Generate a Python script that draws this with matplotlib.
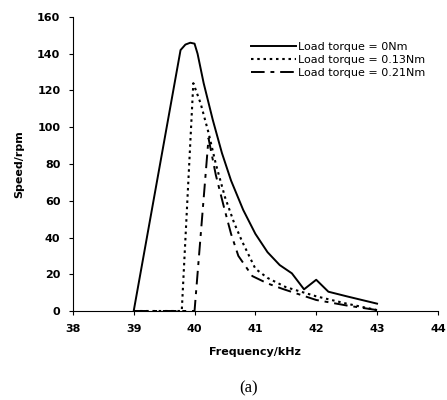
import matplotlib
matplotlib.use("Agg")
import matplotlib.pyplot as plt

# frequency (kHz) / speed (rpm)
f0 = [39.0, 39.77, 39.85, 39.93, 40.0, 40.05, 40.15, 40.3, 40.45, 40.6, 40.8, 41.0, 41.2, 41.4, 41.6, 41.8, 42.0, 42.2, 42.5, 43.0]
s0 = [0, 142, 145, 146, 145.5, 140, 124, 104, 86, 71, 55, 42, 32, 25, 20.5, 11.8, 17, 10.5, 8, 4]

f13 = [39.0, 39.79, 39.98, 40.1, 40.23, 40.35, 40.5, 40.65, 40.78, 41.0, 41.2, 41.5, 42.0, 42.5, 43.0]
s13 = [0, 0, 124, 113, 97, 80, 62, 48, 38, 23, 18, 13, 8, 4, 0.5]

f21 = [39.0, 40.0, 40.23, 40.35, 40.48, 40.6, 40.72, 40.95, 41.2, 41.45, 42.0, 42.5, 43.0]
s21 = [0, 0, 94, 74, 57, 42, 30, 19, 15, 12, 6, 3, 0.5]

labels = ["Load torque = 0Nm", "Load torque = 0.13Nm", "Load torque = 0.21Nm"]

plt.rcParams['font.family'] = ['DejaVu Sans']

fig = plt.figure(figsize=(4.47, 4.0), dpi=100)
ax = fig.add_axes([0.163, 0.2225, 0.8166, 0.735])

ax.plot(f0, s0, color='black', lw=1.4, label=labels[0])
ax.plot(f13, s13, color='black', lw=1.5, linestyle=(0, (1.2, 1.8)), label=labels[1])
ax.plot(f21, s21, color='black', lw=1.4, linestyle=(0, (7, 3, 2, 3)), label=labels[2])

ax.set_xlim(38, 44)
ax.set_ylim(0, 160)
ax.set_xticks(range(38, 45))
ax.set_yticks(range(0, 161, 20))
ax.spines['top'].set_visible(False)
ax.spines['right'].set_visible(False)
ax.spines['left'].set_linewidth(0.8)
ax.spines['bottom'].set_linewidth(0.8)
ax.tick_params(direction='out', length=3, width=0.8, labelsize=8, pad=6)
for t in ax.get_xticklabels() + ax.get_yticklabels():
    t.set_fontweight('bold')

ax.set_xlabel("Frequency/kHz", fontsize=8, fontweight='bold', labelpad=10)
ax.set_ylabel("Speed/rpm", fontsize=8, fontweight='bold', labelpad=9)

ax.legend(loc='upper right', bbox_to_anchor=(435 / 447, 0.921),
          bbox_transform=fig.transFigure, frameon=False,
          fontsize=8, handlelength=4, handletextpad=0.2, labelspacing=0.3)

fig.text(0.555, 0.03, "(a)", family=['Liberation Serif', 'DejaVu Serif'],
         fontsize=12, ha='center', va='center')

fig.savefig("out.png", dpi=100)
